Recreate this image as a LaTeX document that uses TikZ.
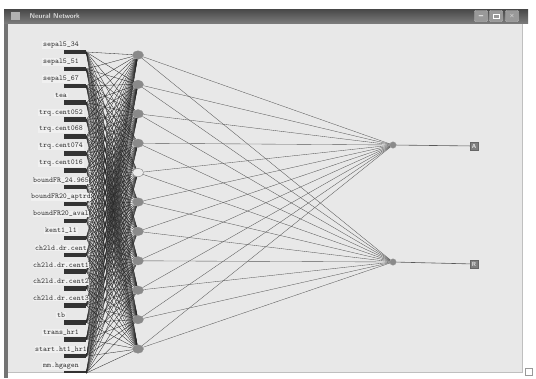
\documentclass[tikz,border=0pt]{standalone}
\usepackage{tikz}
\usetikzlibrary{shapes.geometric,backgrounds}
\definecolor{winbar}{RGB}{92,92,92}
\definecolor{panel}{RGB}{232,232,232}
\definecolor{nodegrey}{RGB}{138,138,138}
\tikzset{
  inlab/.style={fill=white!94!black, inner sep=0.6pt,
                font=\ttfamily\fontsize{7.5}{8}\selectfont, text=black!80},
  inbox/.style={fill=black!80, minimum width=22pt, minimum height=4.5pt, inner sep=0pt},
  hid/.style={ellipse, fill=nodegrey, draw=black!45, line width=0.3pt,
              minimum width=11pt, minimum height=8.5pt, inner sep=0pt},
  outn/.style={circle, fill=nodegrey, draw=black!40, line width=0.3pt,
               minimum size=6.5pt, inner sep=0pt},
  cls/.style={draw=black!60, fill=black!50, minimum size=8pt, inner sep=0.5pt,
              font=\sffamily\bfseries\fontsize{6}{6}\selectfont, text=white!90!black},
  btn/.style={draw=white!75!black, fill=black!40, rounded corners=1pt,
              minimum width=13pt, minimum height=11pt, inner sep=0pt,
              font=\sffamily\bfseries\fontsize{6}{6}\selectfont, text=white},
  wire/.style={draw=black!85, line width=0.32pt},
  owire/.style={draw=black!65, line width=0.35pt},
}

\begin{document}
\begin{tikzpicture}[x=1pt,y=-1pt]
\useasboundingbox (0,0) rectangle (536,378);

% inputs, hidden, outputs
\begin{scope}
\clip (8,23) rectangle (522,372);
\foreach \t [count=\i] in {sepal5\_34,sepal5\_51,sepal5\_67,tea,trq.cent052,
    trq.cent068,trq.cent074,trq.cent016,boundFR\_24.965,boundFR20\_aptrd,
    boundFR20\_aval,kent1\_l1,ch2ld.dr.cent,ch2ld.dr.cent1,ch2ld.dr.cent2,
    ch2ld.dr.cent3,tb,trans\_hr1,start.ht1\_hr1,mm.hgagen}{
  \pgfmathsetmacro\yy{45+(\i-1)*16.9}
  \node[inbox] (in\i) at (75,\yy+7) {};
  \node[inlab] (lab\i) at (61,\yy) {\t};
}
\end{scope}
\foreach \j in {1,...,11}{
  \pgfmathsetmacro\yy{55+(\j-1)*29.4}
  \node[hid] (h\j) at (138,\yy) {};
}
\node[hid, fill=white!92!black] at (h5) {};
\node[outn] (o1) at (393,145) {};
\node[outn] (o2) at (393,262) {};
\node[cls] (c1) at (474,146) {A};
\node[cls] (c2) at (474,264) {R};

\begin{scope}[on background layer]
% window
\fill[white] (0,0) rectangle (536,378);
\fill[panel] (8,23) rectangle (522,372);
\fill[black!55] (4,23) rectangle (8,378);
\draw[black!25, line width=0.8pt] (522,23) -- (522,372) -- (8,372);
\shade[top color=black!72, bottom color=black!52] (4,9) rectangle (528,23);
\fill[white!70!black] (11,12) rectangle (20,20);
\draw[black!40] (525,368) rectangle (532,375);
% connectors
\foreach \i in {1,...,20}
  \foreach \j in {1,...,11}
    \draw[wire] (in\i.east) -- (h\j);
\foreach \j in {1,...,11}{
  \draw[owire] (h\j) -- (o1);
  \draw[owire] (h\j) -- (o2);
}
\draw[owire, line width=0.6pt] (o1) -- (c1);
\draw[owire, line width=0.6pt] (o2) -- (c2);
\end{scope}

\node[anchor=west, font=\sffamily\bfseries\fontsize{7}{7}\selectfont,
      text=white!85!black] (title) at (26,16) {Neural Network};
\node[btn] (bmin) at (481,16) {\_};
\node[btn] (bmax) at (496,16) {};
\draw[white] ([shift={(-3,-2)}]bmax.center) rectangle ([shift={(3,2)}]bmax.center);
\node[btn] (bcls) at (512,16) {$\times$};
\end{tikzpicture}
\end{document}
